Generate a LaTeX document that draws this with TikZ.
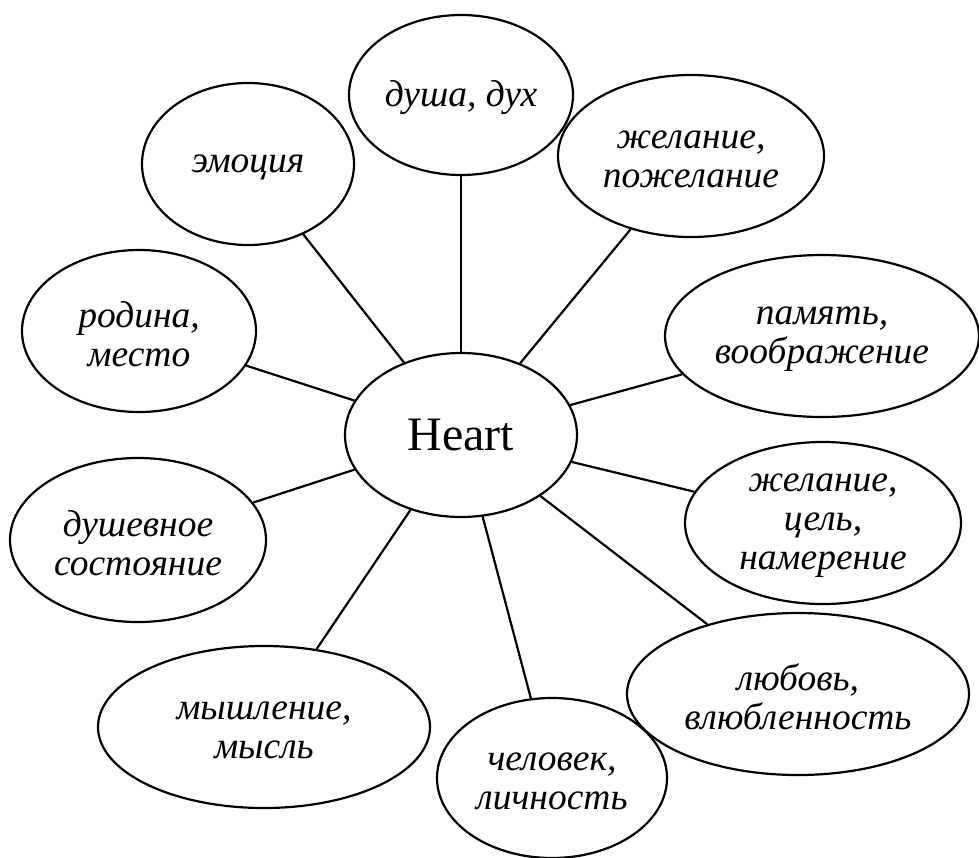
\documentclass[tikz,border=0pt]{standalone}
\usepackage{fontspec}
\setmainfont{Liberation Serif}
\usetikzlibrary{shapes.geometric}
\tikzset{
  bub/.style={draw=black, line width=2.2pt, ellipse, inner sep=0pt},
  lbl/.style={font=\itshape\fontsize{37.5}{39}\selectfont, align=center, inner sep=0pt, yshift=-3pt},
  conn/.style={draw=black, line width=2.2pt}
}
\newcommand{\bubble}[6]{%
  \node[bub, minimum width=#4pt, minimum height=#5pt] (#1) at (#2,#3) {};
  \node[lbl] (#1t) at (#2,#3) {#6};
}
\begin{document}
\begin{tikzpicture}[x=1pt,y=-1pt]
\useasboundingbox (0,0) rectangle (979,857);
\node[bub, minimum width=232pt, minimum height=164pt] (h) at (461,435) {};
\node[font=\fontsize{48}{54}\selectfont, inner sep=0pt] (ht) at (461,435) {Heart};
\bubble{e1}{461}{95}{224}{160}{душа, дух}
\bubble{e2}{248}{164}{212}{162}{эмоция}
\bubble{e3}{691}{156}{266}{162}{желание,\\ пожелание}
\bubble{e4}{139}{331}{234}{162}{родина,\\ место}
\bubble{e5}{822}{336}{314}{162}{память,\\ воображение}
\bubble{e6}{138}{540}{256}{164}{душевное\\ состояние}
\bubble{e7}{823}{523}{276}{162}{желание,\\ цель,\\ намерение}
\bubble{e8}{264}{727}{332}{162}{мышление,\\ мысль}
\bubble{e9}{552}{778}{230}{160}{человек,\\ личность}
\bubble{e10}{798}{694}{342}{162}{любовь,\\ влюбленность}
\foreach \i in {1,...,10} { \draw[conn] (h) -- (e\i); }
\end{tikzpicture}
\end{document}
